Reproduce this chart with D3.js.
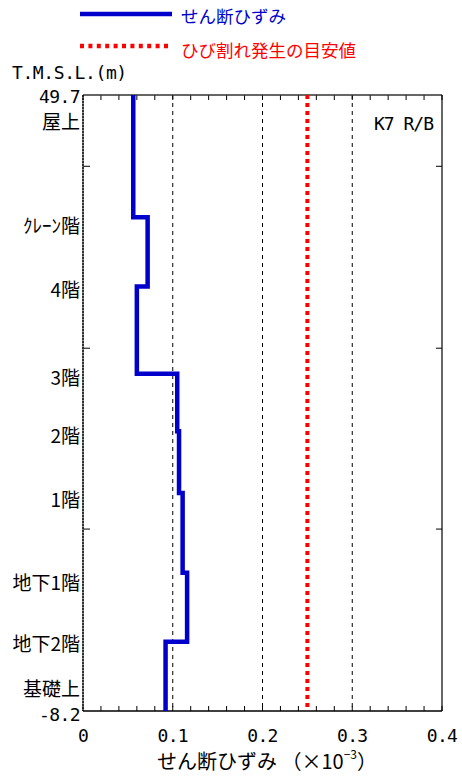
<!DOCTYPE html>
<html><head><meta charset="utf-8">
<script src="https://cdn.jsdelivr.net/npm/d3@7/dist/d3.min.js"></script>
<style>
html,body{margin:0;padding:0;background:#fff;}
svg{display:block;}
.mono{font-family:"DejaVu Sans Mono",monospace;}
.jp{font-family:"Noto Sans CJK JP","Noto Sans CJK SC",sans-serif;}
</style></head>
<body>
<svg id="c" width="462" height="778"></svg>
<script>
// ---- data ----
const floorElev = [49.7, 38.2, 31.7, 23.5, 18.1, 12.3, 4.8, -1.7, -8.2];
const strainValues = [0.056, 0.072, 0.060, 0.105, 0.107, 0.111, 0.116, 0.092];
const crackThreshold = 0.25;
const floorLabels = ["屋上", "ｸﾚｰﾝ階", "4階", "3階", "2階", "1階", "地下1階", "地下2階", "基礎上"];
const labelElev = [47.3, 37.5, 31.5, 23.2, 17.8, 11.8, 4.0, -1.8, -6.0];
const xTicks = [0, 0.1, 0.2, 0.3, 0.4];
const xTickLabels = ["0", "0.1", "0.2", "0.3", "0.4"];
const yEdgeLabels = ["49.7", "-8.2"];
const yMinorTicks = [43.0, 25.9, 8.9];
const legendLabels = ["せん断ひずみ", "ひび割れ発生の目安値"];

const svg = d3.select("#c");
const L = 83, R = 442, T = 95, B = 711;
const x = d3.scaleLinear().domain([0, 0.4]).range([L, R]);
const y = d3.scaleLinear().domain([-8.2, 49.7]).range([B, T]);
const BLUE = "#0000cc", RED = "#ff0000";

// grid lines
svg.append("g").selectAll("line").data([0.1, 0.2, 0.3]).join("line")
  .attr("x1", d => x(d)).attr("x2", d => x(d)).attr("y1", T).attr("y2", B)
  .attr("stroke", "#000").attr("stroke-width", 1).attr("stroke-dasharray", "4,4");

// minor x ticks top/bottom
const minor = d3.range(0, 0.4001, 0.02);
svg.append("g").selectAll("line").data(minor).join("line")
  .attr("x1", d => x(d)).attr("x2", d => x(d)).attr("y1", T).attr("y2", T + 5)
  .attr("stroke", "#000").attr("stroke-width", 1);
svg.append("g").selectAll("line").data(minor).join("line")
  .attr("x1", d => x(d)).attr("x2", d => x(d)).attr("y1", B).attr("y2", B - 5)
  .attr("stroke", "#000").attr("stroke-width", 1);

// y ticks left/right
svg.append("g").selectAll("line").data(yMinorTicks).join("line")
  .attr("x1", L).attr("x2", L + 7).attr("y1", d => y(d)).attr("y2", d => y(d))
  .attr("stroke", "#000");
svg.append("g").selectAll("line").data(yMinorTicks).join("line")
  .attr("x1", R).attr("x2", R - 6).attr("y1", d => y(d)).attr("y2", d => y(d))
  .attr("stroke", "#000");

// frame
svg.append("line").attr("x1", L).attr("x2", R).attr("y1", T).attr("y2", T).attr("stroke", "#333").attr("stroke-width", 1.5);
svg.append("line").attr("x1", L).attr("x2", R).attr("y1", B).attr("y2", B).attr("stroke", "#000").attr("stroke-width", 1.5);
svg.append("line").attr("x1", R).attr("x2", R).attr("y1", T).attr("y2", B).attr("stroke", "#000").attr("stroke-width", 1.2);
svg.append("line").attr("x1", L).attr("x2", L).attr("y1", T).attr("y2", B).attr("stroke", "#555").attr("stroke-width", 1.3);
svg.append("line").attr("x1", L).attr("x2", L).attr("y1", T).attr("y2", B).attr("stroke", "#000").attr("stroke-width", 1.3).attr("stroke-dasharray", "2,1");

// threshold line
svg.append("line").attr("x1", x(crackThreshold)).attr("x2", x(crackThreshold)).attr("y1", T).attr("y2", B)
  .attr("stroke", RED).attr("stroke-width", 4).attr("stroke-dasharray", "4,4");

// step profile
const pts = [];
strainValues.forEach((v, i) => { pts.push([v, floorElev[i]]); pts.push([v, floorElev[i + 1]]); });
svg.append("path").datum(pts)
  .attr("d", d3.line().x(d => x(d[0])).y(d => y(d[1])))
  .attr("fill", "none").attr("stroke", BLUE).attr("stroke-width", 4.5).attr("stroke-linejoin", "miter");

// x tick labels
svg.append("g").selectAll("text").data(xTicks).join("text")
  .attr("class", "mono").attr("x", d => x(d)).attr("y", 735)
  .attr("text-anchor", "middle").attr("dominant-baseline", "central")
  .attr("font-size", 18).attr("letter-spacing", -0.6)
  .text((d, i) => xTickLabels[i]);

// y edge labels
svg.append("text").attr("class", "mono").attr("x", 80).attr("y", y(49.7) + 1).attr("text-anchor", "end")
  .attr("dominant-baseline", "central").attr("font-size", 18).attr("letter-spacing", -0.6).text(yEdgeLabels[0]);
svg.append("text").attr("class", "mono").attr("x", 80).attr("y", y(-8.2) + 3).attr("text-anchor", "end")
  .attr("dominant-baseline", "central").attr("font-size", 18).attr("letter-spacing", -0.6).text(yEdgeLabels[1]);

// floor labels
svg.append("g").selectAll("text").data(floorLabels).join("text")
  .attr("class", "jp").attr("x", 80).attr("y", (d, i) => y(labelElev[i]))
  .attr("text-anchor", "end").attr("dominant-baseline", "central")
  .attr("font-size", 19).text(d => d);

// T.M.S.L.
svg.append("text").attr("class", "mono").attr("x", 12).attr("y", 72).attr("dominant-baseline", "central")
  .attr("font-size", 18).attr("letter-spacing", -0.4).text("T.M.S.L.(m)");

// K7 R/B
svg.append("text").attr("class", "mono").attr("x", 433).attr("y", 123).attr("text-anchor", "end")
  .attr("dominant-baseline", "central").attr("font-size", 18).attr("letter-spacing", -1).text("K7 R/B");

// x title
const xt = svg.append("text").attr("class", "jp").attr("x", 157).attr("y", 760)
  .attr("dominant-baseline", "central").attr("font-size", 20);
xt.append("tspan").text("せん断ひずみ （×10");
xt.append("tspan").attr("font-size", 12).attr("dy", -7).text("−3");
xt.append("tspan").attr("dy", 7).text("）");

// legend
svg.append("line").attr("x1", 80).attr("x2", 172).attr("y1", 14).attr("y2", 14).attr("stroke", BLUE).attr("stroke-width", 4.5);
svg.append("line").attr("x1", 80).attr("x2", 172).attr("y1", 46).attr("y2", 46).attr("stroke", RED).attr("stroke-width", 4.5).attr("stroke-dasharray", "4,4.4");
svg.append("text").attr("class", "jp").attr("x", 181).attr("y", 15).attr("dominant-baseline", "central")
  .attr("font-size", 17.5).attr("fill", BLUE).text(legendLabels[0]);
svg.append("text").attr("class", "jp").attr("x", 181).attr("y", 49).attr("dominant-baseline", "central")
  .attr("font-size", 17.5).attr("fill", RED).text(legendLabels[1]);
</script>
</body></html>
